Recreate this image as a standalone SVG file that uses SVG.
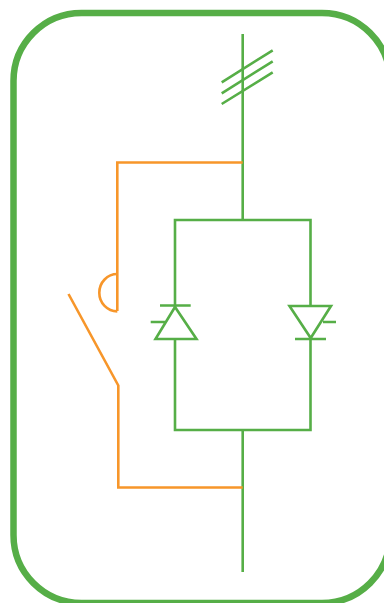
<svg xmlns="http://www.w3.org/2000/svg" width="384" height="603" viewBox="0 0 384 603">
<style>
.g{fill:none;stroke:#56ae47;stroke-width:2.6}
.o{fill:none;stroke:#f7962a;stroke-width:2.6}
</style>
<rect width="384" height="603" fill="#fff"/>
<g id="enclosure"><rect x="13.500" y="13" width="376.500" height="590" rx="68" ry="68" fill="none" stroke="#56ae47" stroke-width="6.500"/></g>
<g id="connectors">
<path class="g" d="M242.700 34V220M242.700 430V572"/>
<path class="g" d="M175 339V430H310.500V339M175 306V220H310.500V306"/>
<path class="o" d="M242.700 162.500H117.300V311"/>
<path class="o" d="M242.700 487.500H118.300V385.500L68.500 294"/>
</g>
<g id="bus-ticks"><path class="g" d="M221.700 82.300L272.700 50.300M221.700 93.300L272.700 61.300M221.700 104L272.700 72.300"/></g>
<g id="interlock"><path class="o" d="M117.300 274A18 18.700 0 0 0 117.300 311.400"/></g>
<g id="thyristor-left"><path class="g" d="M160 305.500H190.700M175 307L155.500 339H196.500ZM150.700 322H165.500"/></g>
<g id="thyristor-right"><path class="g" d="M289.500 306H331L310.700 338ZM295 339H326M323 322H336"/></g>
</svg>
